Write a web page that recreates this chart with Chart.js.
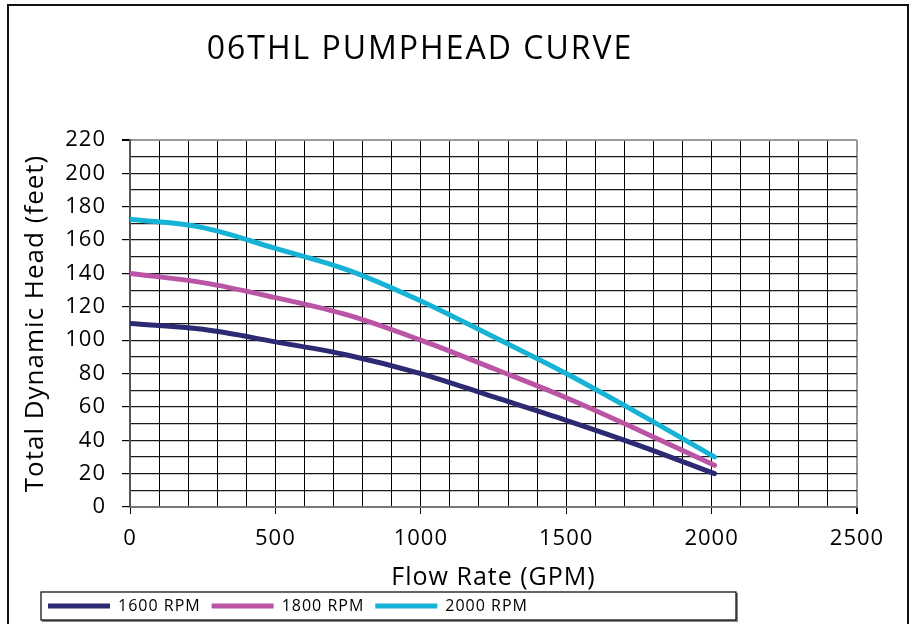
<!DOCTYPE html>
<html>
<head>
<meta charset="utf-8">
<script src="https://cdn.jsdelivr.net/npm/chart.js@4/dist/chart.umd.min.js"></script>
<style>
  html, body { margin: 0; padding: 0; background: #fff; overflow: hidden; }
  #wrap { position: relative; width: 913px; height: 624px; }
  #frame { position: absolute; left: 7px; top: 4px; width: 898px; height: 640px; border: 2px solid #111; pointer-events: none; }
  #title { position: absolute; left: 0; top: 31px; width: 840px; text-align: center; font-family: "Open Sans", sans-serif; font-size: 32px; line-height: 1; letter-spacing: 2px; color: #000; }
  canvas { position: absolute; left: 0; top: 0; }
</style>
</head>
<body>
<div id="wrap">
  <canvas id="c" width="913" height="624"></canvas>
  <div id="frame"></div>
  <div id="title">06THL PUMPHEAD CURVE</div>
</div>
<script>
// ---- data ----
const flowGPM   = [0, 250, 500, 750, 1000, 1250, 1500, 1750, 2010];
const rpm1600   = [110, 106.5, 99, 91, 80, 66, 52, 37, 20];
const rpm1800   = [140, 134.5, 125.5, 115, 100, 83, 65.5, 46, 25];
const rpm2000   = [172.5, 167.5, 155, 142, 123.5, 102, 80, 56, 30];
const seriesNames = ["1600 RPM", "1800 RPM", "2000 RPM"];
const seriesColors = ["#2B2A72", "#BA55A6", "#16B3D6"];
const xMajorTicks = [0, 500, 1000, 1500, 2000, 2500];
const yMajorTicks = [0, 20, 40, 60, 80, 100, 120, 140, 160, 180, 200, 220];

const toPoints = ys => flowGPM.map((x, i) => ({x: x, y: ys[i]}));
const seriesValues = [rpm1600, rpm1800, rpm2000];

const spacing = {
  id: 'spacing',
  beforeUpdate(c) { c.ctx.letterSpacing = '1px'; },
  beforeLayout(c) { c.ctx.letterSpacing = '1px'; },
  beforeDraw(c) { c.ctx.letterSpacing = '1px'; }
};
const legendBox = {
  id: 'legendBox',
  afterDraw(c) {
    const lg = c.legend, ctx = c.ctx;
    ctx.save();
    ctx.strokeStyle = '#888';
    ctx.lineWidth = 2;
    ctx.beginPath();
    ctx.moveTo(lg.left + 5, lg.bottom - 3);
    ctx.lineTo(lg.left + 700, lg.bottom - 3);
    ctx.lineTo(lg.left + 700, lg.top + 6);
    ctx.stroke();
    ctx.strokeStyle = '#000';
    ctx.lineWidth = 1.2;
    ctx.strokeRect(lg.left + 4, lg.top + 5, 695, lg.bottom - lg.top - 9);
    ctx.restore();
  }
};

Chart.defaults.font.family = '"Open Sans", sans-serif';
Chart.defaults.color = '#000';

new Chart(document.getElementById('c'), {
  type: 'line',
  data: {
    datasets: seriesValues.map((vals, i) => ({
      label: seriesNames[i],
      data: toPoints(vals),
      borderColor: seriesColors[i],
      backgroundColor: seriesColors[i],
      borderWidth: 5,
      borderCapStyle: 'round',
      borderJoinStyle: 'round',
      pointRadius: 0,
      tension: 0.35,
      fill: false
    }))
  },
  options: {
    responsive: false,
    animation: false,
    layout: { padding: { left: 37, right: 56, top: 140, bottom: 0 } },
    plugins: {
      title: { display: false },
      tooltip: { enabled: false },
      legend: {
        position: 'bottom',
        align: 'start',
        labels: {
          usePointStyle: true,
          pointStyle: 'line',
          pointStyleWidth: 62,
          padding: 11,
          font: { size: 16 },
          color: '#000'
        }
      }
    },
    scales: {
      x: {
        type: 'linear',
        min: 0, max: 2500,
        afterFit(s) { s.height = 80; },
        ticks: {
          stepSize: 100,
          autoSkip: false,
          maxRotation: 0,
          padding: 12,
          font: { size: 22 },
          color: '#000',
          callback: v => xMajorTicks.includes(v) ? v : ''
        },
        grid: {
          color: ctx => ctx.tick && ctx.tick.value === 2500 ? '#9a9a9a' : '#000',
          lineWidth: ctx => ctx.tick && ctx.tick.value === 2500 ? 2 : 1,
          tickColor: ctx => ctx.tick && xMajorTicks.includes(ctx.tick.value) ? '#000' : 'rgba(0,0,0,0)',
          tickLength: 7,
          drawTicks: true
        },
        border: { color: '#777', width: 2 },
        title: {
          display: true,
          text: 'Flow Rate (GPM)',
          font: { size: 25 },
          color: '#000',
          padding: { top: 0, bottom: -6 }
        }
      },
      y: {
        min: 0, max: 220,
        afterFit(s) { s.width = 93; },
        ticks: {
          stepSize: 10,
          autoSkip: false,
          padding: 16,
          font: { size: 22 },
          color: '#000',
          callback: v => yMajorTicks.includes(v) ? v : ''
        },
        grid: {
          color: ctx => ctx.tick && ctx.tick.value === 220 ? '#9a9a9a' : '#1a1a1a',
          lineWidth: ctx => ctx.tick && ctx.tick.value === 220 ? 2 : 1.2,
          tickColor: ctx => ctx.tick && yMajorTicks.includes(ctx.tick.value) ? '#000' : 'rgba(0,0,0,0)',
          tickLength: 8,
          drawTicks: true
        },
        border: { color: '#555', width: 2 },
        title: {
          display: true,
          text: 'Total Dynamic Head (feet)',
          font: { size: 26 },
          color: '#000',
          padding: { top: -17, bottom: 0 }
        }
      }
    }
  },
  plugins: [spacing, legendBox]
});
</script>
</body>
</html>
